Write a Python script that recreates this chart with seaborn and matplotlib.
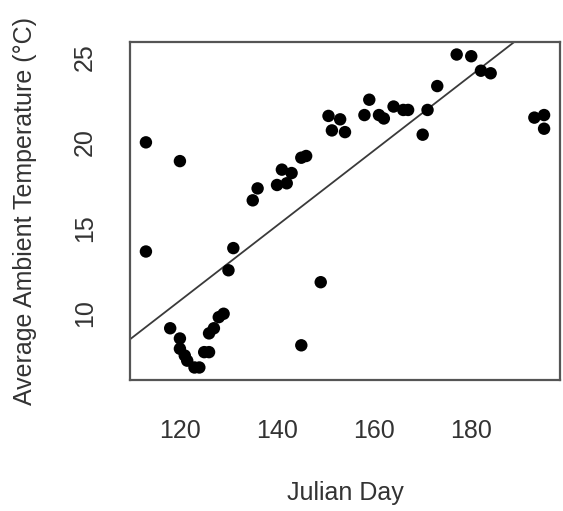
import numpy as np
import pandas as pd
import matplotlib
matplotlib.use("Agg")
import matplotlib.pyplot as plt
import seaborn as sns

# values
julian_day = [113, 113, 118, 120, 120, 120, 121, 121.5, 123, 124,
              125, 126, 126, 127, 128, 129, 130, 131, 135, 136,
              140, 141, 142, 143, 145, 146, 145, 149, 150.6, 151.3,
              153, 154, 158, 159, 161, 162, 164, 166, 167, 170,
              171, 173, 177, 180, 182, 184, 193, 195, 195]
avg_temp = [20.0, 13.6, 9.1, 18.9, 8.5, 7.9, 7.5, 7.2, 6.8, 6.8,
            7.7, 7.7, 8.8, 9.1, 9.75, 9.95, 12.5, 13.8, 16.6, 17.3,
            17.5, 18.4, 17.6, 18.2, 19.1, 19.2, 8.1, 11.8, 21.55, 20.7,
            21.35, 20.6, 21.6, 22.5, 21.6, 21.4, 22.1, 21.9, 21.9, 20.45,
            21.9, 23.3, 25.15, 25.05, 24.2, 24.05, 21.45, 21.6, 20.8]

# trend line as drawn in the reference
line_intercept = -15.72
line_slope = 0.2203

df = pd.DataFrame({"day": julian_day, "temp": avg_temp})

sns.set_style("white")
plt.rcParams["font.family"] = ["Liberation Sans", "DejaVu Sans"]

fig = plt.figure(figsize=(5.63, 5.11), dpi=100)
ax = fig.add_axes([130 / 563, 1 - 380 / 511, 430 / 563, 338 / 511])

sns.scatterplot(data=df, x="day", y="temp", ax=ax, s=80, color="black",
                edgecolor="none", zorder=3)
ax.axline((0, line_intercept), slope=line_slope, color="#3a3a3a", linewidth=1.3)

# R style 4% padding around the data range
xr = df["day"].max() - df["day"].min()
yr = df["temp"].max() - df["temp"].min()
ax.set_xlim(df["day"].min() - 0.04 * xr, df["day"].max() + 0.04 * xr)
ax.set_ylim(df["temp"].min() - 0.04 * yr, df["temp"].max() + 0.04 * yr)

ax.set_xticks([120, 140, 160, 180])
ax.set_yticks([10, 15, 20, 25])
for sp in ax.spines.values():
    sp.set_visible(True)
    sp.set_color("#555555")
    sp.set_linewidth(1.6)

ax.tick_params(axis="both", direction="out", length=12, width=1.3,
               color="#333333", labelsize=18, labelcolor="#333333")
ax.tick_params(axis="x", pad=16)
ax.tick_params(axis="y", pad=12)
for lab in ax.get_yticklabels():
    lab.set_rotation(90)
    lab.set_va("center")

ax.set_xlabel("Julian Day", fontsize=18, color="#333333")
ax.set_ylabel("Average Ambient Temperature (°C)", fontsize=18, color="#333333")
ax.xaxis.set_label_coords(0.5, -0.334)
ax.yaxis.set_label_coords(-0.244, 0.5)
for t in (ax.xaxis.label, ax.yaxis.label):
    t.set_va("center")

fig.savefig("out.png", dpi=100)
